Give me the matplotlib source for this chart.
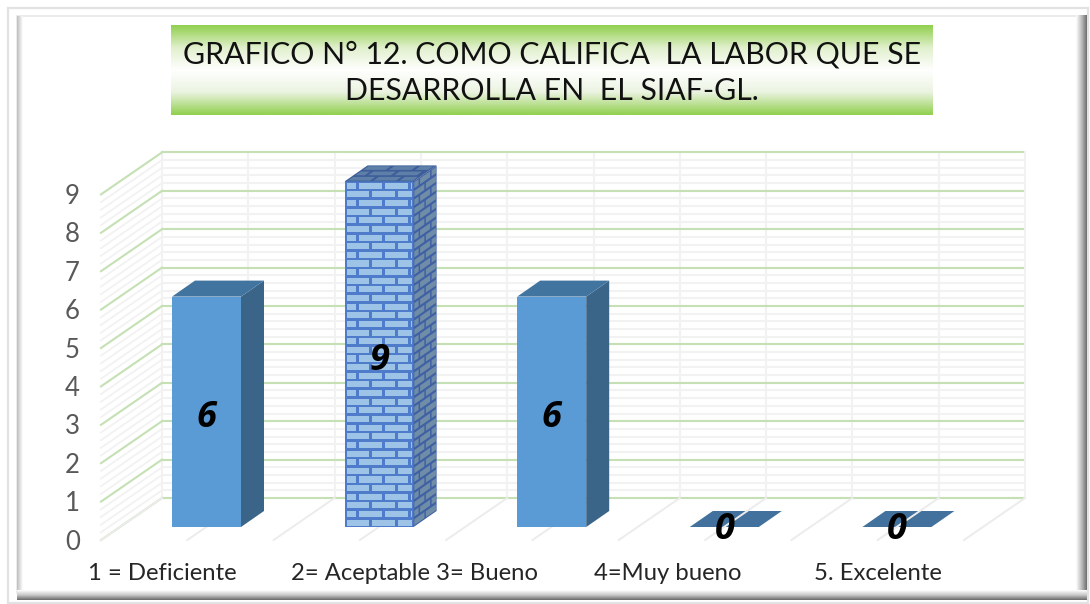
# -*- coding: utf-8 -*-
""" Grafico N 12, 3D style column chart drawn on plain matplotlib axes """
import numpy as np
import matplotlib
matplotlib.use('Agg')
import matplotlib.pyplot as plt
from matplotlib.patches import Polygon, Rectangle

plt.rcParams['font.family'] = ['Lato', 'DejaVu Sans']

# Data
categories = ['1 = Deficiente', '2= Aceptable', '3= Bueno', '4=Muy bueno', '5. Excelente']
values = [6, 9, 6, 0, 0]
y_ticks = [0, 1, 2, 3, 4, 5, 6, 7, 8, 9]
title_lines = ['GRAFICO N° 12. COMO CALIFICA  LA LABOR QUE SE', 'DESARROLLA EN  EL SIAF-GL.']

W, H = 1090, 604
PX_X = 172.6  # pixels per category
PX_Y = 38.4   # pixels per value unit
X0, Y0 = 206.5, 527  # pixel of category 0, value 0

fig = plt.figure(figsize=(W / 100, H / 100), dpi=100)

# Pixel axes for the frame and the title box
bg = fig.add_axes([0, 0, 1, 1])
bg.set_xlim(0, W)
bg.set_ylim(H, 0)
bg.axis('off')

def gradient(colors, extent, vertical=True, zorder=1):
    arr = np.array(colors, dtype=float)[:, :3] / 255
    pos = np.linspace(0, 1, 64)
    xp = np.linspace(0, 1, len(arr))
    img = np.stack([np.interp(pos, xp, arr[:, k]) for k in range(3)], axis=-1)
    img = img[:, None, :] if vertical else img[None, :, :]
    bg.imshow(img, extent=extent, aspect='auto', zorder=zorder, interpolation='bilinear')

# frame
bg.add_patch(Rectangle((7.5, 7.5), 1080, 595, fill=False, ec='#e2e2e2', lw=1.6, zorder=1))
bg.add_patch(Rectangle((17, 15.5), 1063, 577, fc='white', ec='#e8e8e8', lw=1.2, zorder=1))
gradient([(190, 190, 190), (255, 255, 255)], (17, 23, 592, 16), vertical=False, zorder=2)
gradient([(255, 255, 255), (190, 190, 190), (110, 110, 110)], (1076, 1087, 600, 15), vertical=False, zorder=2)
gradient([(255, 255, 255), (200, 200, 200), (105, 105, 105)], (17, 1087, 600, 590), zorder=3)

# title box
gradient([(146, 208, 80), (225, 240, 205), (255, 255, 255), (235, 243, 225), (146, 208, 80)],
         (171, 933, 115, 25), zorder=4)
bg.set_xlim(0, W)
bg.set_ylim(H, 0)
bg.text(552, 54.5, title_lines[0], ha='center', va='center', fontsize=21.8, color='#111111', zorder=5)
bg.text(552, 91.5, title_lines[1], ha='center', va='center', fontsize=21.8, color='#111111', zorder=5)

# Chart axes: x in categories, y in values, depth is an offset in those units
ax = fig.add_axes([0, 0, 1, 1])
ax.patch.set_alpha(0)
ax.set_xlim((0 - X0) / PX_X, (W - X0) / PX_X)
ax.set_ylim(-(H - Y0) / PX_Y, Y0 / PX_Y)
ax.axis('off')

GREEN = '#c5e0b4'
MINOR = '#f2f2f2'
BACK_Y = 29 / PX_Y     # back wall rise
FRONT_Y = -13 / PX_Y   # front edge drop
LEFT = (162 - X0) / PX_X
RIGHT = (1023 - X0) / PX_X
WALL_DX = -61 / PX_X

# minor gridlines on back and side wall
for v in np.arange(0, 9.01, 0.2):
    if abs(v - round(v)) < 1e-6:
        continue
    ax.plot([LEFT, RIGHT], [v + BACK_Y] * 2, color=MINOR, lw=1.5, zorder=1)
    ax.plot([LEFT + WALL_DX, LEFT], [v + FRONT_Y, v + BACK_Y], color=MINOR, lw=1.3, zorder=1)

# vertical lines on the back wall, slanted lines on the floor
for k in range(11):
    x = LEFT + k * 0.5
    ax.plot([x, x], [BACK_Y, 9 + BACK_Y], color=MINOR, lw=1.5, zorder=1)

# major gridlines
for v in y_ticks:
    ax.plot([LEFT, RIGHT], [v + BACK_Y] * 2, color=GREEN, lw=1.5, zorder=2)
    ax.plot([LEFT + WALL_DX, LEFT], [v + FRONT_Y, v + BACK_Y], color=GREEN, lw=1.5, zorder=2)
    ax.text(LEFT + WALL_DX - 0.165, v + FRONT_Y - 2 / PX_Y, str(v), ha='center', va='center',
            fontsize=18.5, color='#595959')

BAR_HW = 34.5 / PX_X
DEPTH_X = 23 / PX_X
DEPTH_Y = 16 / PX_Y

def bricks(origin, u, v, nu, nv, base, mortar, zorder):
    """Brick pattern on the face origin + s*u + t*v, sizes are in face fractions."""
    origin, u, v = np.array(origin), np.array(u), np.array(v)
    face = [origin, origin + u, origin + u + v, origin + v]
    ax.add_patch(Polygon(face, closed=True, fc=mortar, ec='none', zorder=zorder))
    gap_u, gap_t = 0.13 / nu, 0.3 / nv
    for row in range(nv):
        t0, t1 = row / nv + gap_t / 2, (row + 1) / nv - gap_t / 2
        shift = 0.5 * (row % 2)
        for col in range(-1, int(nu) + 2):
            s0 = max((col + shift) / nu + gap_u / 2, 0.03)
            s1 = min((col + 1 + shift) / nu - gap_u / 2, 0.97)
            if s1 <= s0:
                continue
            pts = [origin + s0 * u + t0 * v, origin + s1 * u + t0 * v,
                   origin + s1 * u + t1 * v, origin + s0 * u + t1 * v]
            ax.add_patch(Polygon(pts, closed=True, fc=base, ec='none', zorder=zorder + 0.1))

for i, val in enumerate(values):
    x0, x1 = i - BAR_HW, i + BAR_HW
    top = [(x0, val), (x1, val), (x1 + DEPTH_X, val + DEPTH_Y), (x0 + DEPTH_X, val + DEPTH_Y)]
    if val == 0:
        ax.add_patch(Polygon(top, closed=True, fc='#41719c', ec='none', zorder=3))
    elif i == 1:
        rows = int(round(val * PX_Y / 8.55))
        bricks((x0, 0), (x1 - x0, 0), (0, val), 2.65, rows, '#9dc3e6', '#4f7cca', 6)
        bricks((x1, 0), (DEPTH_X, DEPTH_Y), (0, val), 2, rows, '#708da8', '#3f60a4', 6)
        bricks((x0, val), (x1 - x0, 0), (DEPTH_X, DEPTH_Y), 2.65, 3, '#5d7fa8', '#3c5d98', 6)
    else:
        ax.add_patch(Rectangle((x0, 0), x1 - x0, val, fc='#5b9bd5', ec='none', zorder=6))
        side = [(x1, 0), (x1 + DEPTH_X, DEPTH_Y), (x1 + DEPTH_X, val + DEPTH_Y), (x1, val)]
        ax.add_patch(Polygon(side, closed=True, fc='#3a6589', ec='none', zorder=6))
        ax.add_patch(Polygon(top, closed=True, fc='#4274a0', ec='none', zorder=6))

# floor lines go over the flat bars, under the solid ones
for k in range(11):
    x = LEFT + k * 0.5
    ax.plot([x, x + WALL_DX], [BACK_Y, FRONT_Y], color='#ececec', lw=1.4, zorder=4)

# data labels
label_y = [v / 2 - 6.5 / PX_Y if v else -3 / PX_Y for v in values]
for i, (val, ly) in enumerate(zip(values, label_y)):
    ax.text(i, ly, str(val), ha='center', va='center', fontsize=26, color='black',
            family='Open Sans', fontweight='bold', fontstyle='italic', zorder=8)

# category labels, they are not evenly spaced in the picture
cat_x = [-0.258, 0.895, 1.625, 2.674, 3.89]
for cx, name in zip(cat_x, categories):
    ax.text(cx, -1.2, name, ha='center', va='center', fontsize=17.2, color='#262626', zorder=8)

fig.savefig('out.png', dpi=100)
